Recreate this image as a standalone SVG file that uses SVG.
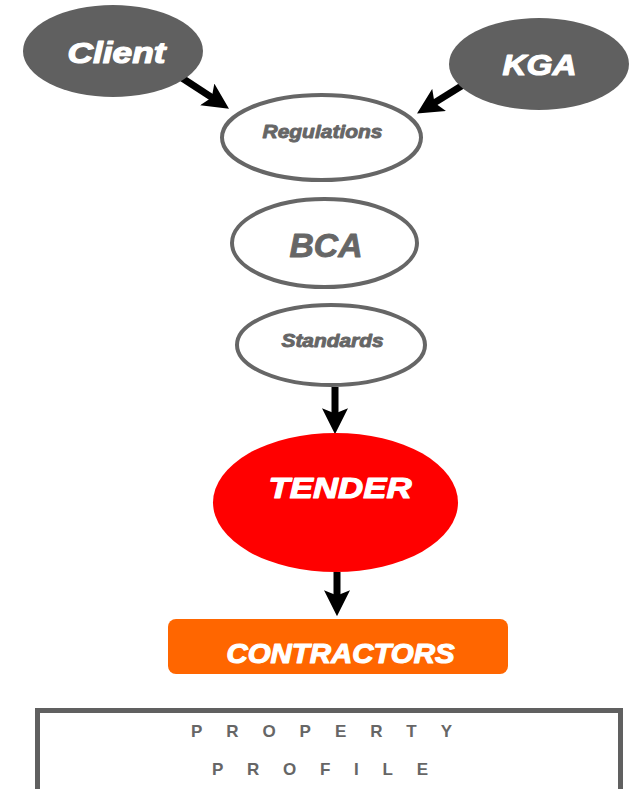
<svg xmlns="http://www.w3.org/2000/svg" width="638" height="789" viewBox="0 0 638 789">
  <style>
    .dark { fill: #606060; }
    .outline { fill: #ffffff; stroke: #666666; stroke-width: 4; }
    .wt { fill: #ffffff; stroke: #ffffff; stroke-width: 1.2; stroke-linejoin: round; font-family: "Liberation Sans", Arial, sans-serif; font-weight: bold; font-style: italic; text-anchor: middle; }
    .gt { fill: #666666; stroke: #666666; stroke-width: 0.9; stroke-linejoin: round; font-family: "Liberation Sans", Arial, sans-serif; font-weight: bold; font-style: italic; text-anchor: middle; }
    .pt { fill: #666666; font-family: "Liberation Sans", Arial, sans-serif; font-weight: bold; font-size: 17px; }
    .conn { stroke: #000000; stroke-width: 7; fill: none; marker-end: url(#arrow); }
  </style>
  <defs>
    <marker id="arrow" markerUnits="userSpaceOnUse" markerWidth="26" markerHeight="26" viewBox="0 0 24 24" refX="10" refY="12" orient="auto">
      <path d="M0,0 L24,12 L0,24 L5,12 z" fill="#000000"/>
    </marker>
  </defs>
  <rect width="638" height="789" fill="#ffffff"/>

  <g id="connectors">
    <line class="conn" x1="182" y1="78" x2="216.3" y2="100.4"/>
    <line class="conn" x1="463" y1="85" x2="429.9" y2="105.6"/>
    <line class="conn" x1="335" y1="387" x2="335" y2="419"/>
    <line class="conn" x1="337" y1="572" x2="337" y2="601"/>
  </g>

  <g id="client">
    <ellipse class="dark" cx="113" cy="51" rx="90" ry="46"/>
    <text class="wt" x="116.5" y="63" font-size="29" textLength="98" lengthAdjust="spacingAndGlyphs">Client</text>
  </g>

  <g id="kga">
    <ellipse class="dark" cx="539" cy="64" rx="90" ry="46"/>
    <text class="wt" x="539.5" y="75" font-size="30" textLength="74" lengthAdjust="spacingAndGlyphs">KGA</text>
  </g>

  <g id="regulations">
    <ellipse class="outline" cx="321.5" cy="137.5" rx="99.5" ry="42.5"/>
    <text class="gt" x="322.5" y="138" font-size="19" textLength="120" lengthAdjust="spacingAndGlyphs">Regulations</text>
  </g>

  <g id="bca">
    <ellipse class="outline" cx="324.5" cy="243" rx="92.5" ry="44"/>
    <text class="gt" x="326" y="257" font-size="33" textLength="73" lengthAdjust="spacingAndGlyphs">BCA</text>
  </g>

  <g id="standards">
    <ellipse class="outline" cx="331" cy="345" rx="94" ry="40"/>
    <text class="gt" x="332.5" y="347" font-size="18.5" textLength="102" lengthAdjust="spacingAndGlyphs">Standards</text>
  </g>

  <g id="tender">
    <ellipse cx="335.5" cy="502.5" rx="122.5" ry="69.5" fill="#ff0000"/>
    <text class="wt" x="340" y="498" font-size="30" textLength="143" lengthAdjust="spacingAndGlyphs">TENDER</text>
  </g>

  <g id="contractors">
    <rect x="168" y="619" width="340" height="55" rx="8" ry="8" fill="#ff6600"/>
    <text class="wt" x="340.5" y="663" font-size="28" textLength="228" lengthAdjust="spacingAndGlyphs">CONTRACTORS</text>
  </g>

  <g id="property-profile">
    <rect x="37.5" y="710.5" width="583" height="100" fill="#ffffff" stroke="#606060" stroke-width="5"/>
    <text class="pt" x="191" y="737" textLength="261" lengthAdjust="spacing">PROPERTY</text>
    <text class="pt" x="212" y="775" textLength="216" lengthAdjust="spacing">PROFILE</text>
  </g>
</svg>
